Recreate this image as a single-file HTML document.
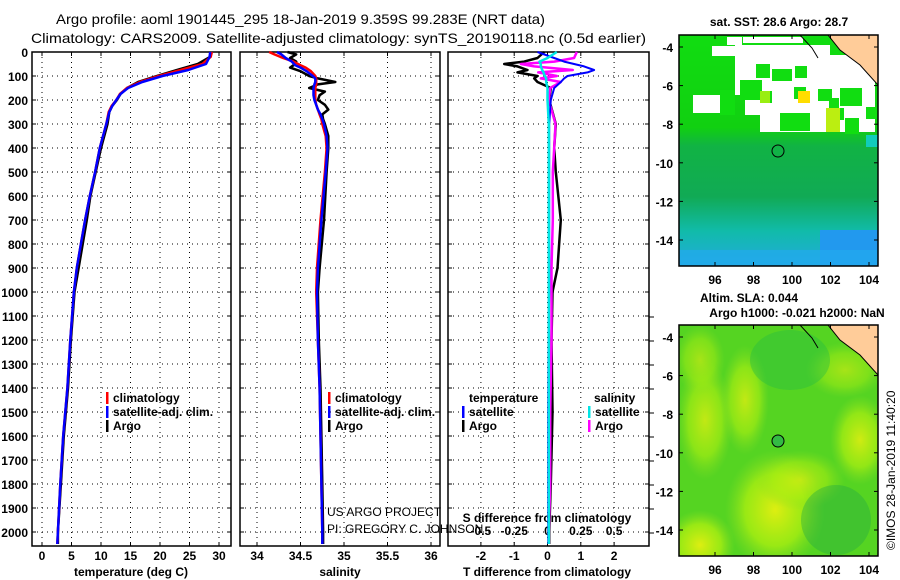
<!DOCTYPE html>
<html><head><meta charset="utf-8">
<style>
html,body{margin:0;padding:0;background:#fff;}
svg{display:block;font-family:"Liberation Sans",sans-serif;}
.t{font-size:12px;font-weight:bold;fill:#000;}
.ttl{font-size:14px;fill:#000;}
</style></head>
<body>
<svg id="fig" width="900" height="580" viewBox="0 0 900 580">
<defs>
<linearGradient id="sstgrad" x1="0" y1="0" x2="0" y2="1">
<stop offset="0" stop-color="#11dd11"/><stop offset="0.4" stop-color="#11d011"/>
<stop offset="0.48" stop-color="#11b344"/><stop offset="0.7" stop-color="#11aa55"/>
<stop offset="0.85" stop-color="#11bbaa"/><stop offset="1" stop-color="#22aadd"/>
</linearGradient>
<radialGradient id="yel1" cx="0.5" cy="0.5" r="0.5"><stop offset="0" stop-color="#ddee11"/><stop offset="0.6" stop-color="#aaee11" stop-opacity="0.8"/><stop offset="1" stop-color="#88dd22" stop-opacity="0"/></radialGradient>
<clipPath id="m1"><rect x="679" y="35" width="199" height="231"/></clipPath>
<clipPath id="m2"><rect x="679" y="325" width="199" height="231"/></clipPath>
</defs>
<text class="ttl" x="56" y="24" textLength="489" lengthAdjust="spacingAndGlyphs">Argo profile: aoml 1901445_295 18-Jan-2019 9.359S 99.283E (NRT data)</text>
<text class="ttl" x="31" y="43" textLength="615" lengthAdjust="spacingAndGlyphs">Climatology: CARS2009. Satellite-adjusted climatology: synTS_20190118.nc (0.5d earlier)</text>
<g id="plots"></g>
<g id="maps"></g>
</svg>
<script>
// ---- data ----
const depthsT = [0,20,50,75,100,125,150,175,200,225,250,300,400,500,600,700,800,900,1000,1200,1400,1600,1800,2000,2050];
const tempClim = [28.8,28.6,27.2,23.5,19.8,16.6,14.4,13.2,12.6,11.8,11.3,10.9,9.8,9.0,8.1,7.3,6.6,5.9,5.4,4.8,4.3,3.6,3.1,2.7,2.6];
const tempSat = [28.5,28.4,27.8,24.8,20.4,17.0,14.6,13.3,12.6,11.9,11.4,10.9,9.8,9.0,8.1,7.3,6.6,5.9,5.4,4.8,4.3,3.6,3.1,2.7,2.6];
const tempArgo = [28.7,28.5,26.4,22.9,19.5,16.3,14.4,13.3,12.7,11.9,11.4,11.1,10.0,9.1,8.2,7.6,6.9,6.2,5.5,4.9,4.4,3.7,3.2,2.7,2.7];
const depthsS = [0,10,25,40,55,65,80,100,110,125,135,150,165,180,200,220,240,260,280,300,350,400,500,700,900,1000,1200,1400,1600,1800,2000,2050];
const salClim = [34.14,34.2,34.3,34.42,34.5,34.56,34.62,34.67,34.68,34.68,34.68,34.67,34.67,34.67,34.67,34.68,34.7,34.72,34.74,34.75,34.79,34.8,34.78,34.73,34.69,34.68,34.7,34.72,34.73,34.74,34.75,34.75];
const salSat = [34.23,34.28,34.33,34.4,34.44,34.5,34.57,34.64,34.67,34.67,34.66,34.65,34.65,34.65,34.66,34.68,34.7,34.73,34.75,34.77,34.8,34.81,34.79,34.74,34.7,34.69,34.7,34.72,34.73,34.74,34.75,34.75];
const salArgo = [34.35,34.45,34.38,34.45,34.42,34.38,34.5,34.6,34.7,34.9,34.7,34.6,34.78,34.72,34.7,34.78,34.82,34.75,34.76,34.78,34.82,34.82,34.8,34.77,34.72,34.7,34.71,34.73,34.74,34.75,34.76,34.76];
const depthsD = [0,25,40,50,60,75,85,100,110,125,150,200,300,400,500,700,900,1000,1200,1500,1800,2000,2050];
const dTsat = [-0.3,0.2,0.5,0.8,1.1,1.4,1.2,0.6,0.5,0.4,0.2,0.1,0.05,0.05,0.05,0.05,0.05,0.05,0.03,0.02,0.02,0.02,0.02];
const dTargo = [-0.1,-0.3,-0.7,-1.3,-0.9,-0.6,-0.9,-0.3,-0.4,-0.3,0.1,0.05,0.25,0.2,0.25,0.4,0.3,0.15,0.12,0.15,0.1,0.05,0.05];
const dSsat = [0.07,0,-0.06,-0.05,-0.05,-0.04,-0.03,-0.02,-0.01,-0.01,0,0,0.01,0.01,0.01,0.01,0.01,0.01,0.01,0.01,0.01,0.01,0.01];
const dSargo = [0.22,0.2,0.05,-0.2,-0.1,0.19,-0.07,0.07,-0.05,0.1,0.02,0.01,0.06,0.05,0.04,0.04,0.03,0.03,0.03,0.02,0.02,0.01,0.01];
const depthTicks = [0,100,200,300,400,500,600,700,800,900,1000,1100,1200,1300,1400,1500,1600,1700,1800,1900,2000];
const tTicks = [0,5,10,15,20,25,30];
const sTicks = [34,34.5,35,35.5,36];
const sTickLabels = ["34","34.5","35","35.5","36"];
const dTTicks = [-2,-1,0,1,2];
const dSTicks = [-0.5,-0.25,0,0.25,0.5];
const dSTickLabels = ["-0.5","-0.25","0","0.25","0.5"];

const NS='http://www.w3.org/2000/svg';
const plots=document.getElementById('plots');
function mk(tag,attrs,parent){const e=document.createElementNS(NS,tag);for(const k in attrs)e.setAttribute(k,attrs[k]);(parent||plots).appendChild(e);return e;}
const yTop=52,yBot=546;
const yD=d=>yTop+d*0.24;
const xT=v=>42+v*5.9;
const xS=v=>257+(v-34)*87;
const xDT=v=>547.5+v*33.3;
const xDS=v=>547.5+v*133.2;

const panels=[{x0:32,x1:231,name:'temperature-panel'},{x0:240,x1:440,name:'salinity-panel'},{x0:448,x1:649,name:'difference-panel'}];
panels.forEach((p,i)=>{
  const r=mk('rect',{x:p.x0,y:yTop,width:p.x1-p.x0,height:yBot-yTop,fill:'#fff',stroke:'#000','stroke-width':1.5});
  
  
  depthTicks.forEach(d=>{
    const l=mk('line',{x1:p.x0,x2:p.x1,y1:yD(d),y2:yD(d),stroke:'#000','stroke-dasharray':'1,4','stroke-width':1});
    
    
    mk('line',{x1:p.x0,x2:p.x0+4,y1:yD(d),y2:yD(d),stroke:'#000'});
    mk('line',{x1:p.x1-4,x2:p.x1,y1:yD(d),y2:yD(d),stroke:'#000'});
  });
});
depthTicks.forEach(d=>{
  const t=mk('text',{x:28,y:yD(d)+5,'text-anchor':'end',class:'t'});t.textContent=d;
  
  
  if(d>=1100){mk('line',{x1:649,x2:654,y1:yD(d)+1,y2:yD(d)+1,stroke:'#000'});}
});
function xgrid(ticks,fx,p,labels,ly){
  ticks.forEach((v,i)=>{
    const x=fx(v);
    const l=mk('line',{x1:x,x2:x,y1:yTop,y2:yBot,stroke:'#000','stroke-dasharray':'1,4'});
    
    
    mk('line',{x1:x,x2:x,y1:yTop,y2:yTop+4,stroke:'#000'});
    mk('line',{x1:x,x2:x,y1:yBot-4,y2:yBot,stroke:'#000'});
    const t=mk('text',{x:x,y:ly,'text-anchor':'middle',class:'t'});t.textContent=labels?labels[i]:v;
    
    
  });
}
xgrid(tTicks,xT,panels[0],null,560);
xgrid(sTicks,xS,panels[1],sTickLabels,560);
xgrid(dTTicks,xDT,panels[2],null,560);
dSTicks.forEach((v,i)=>{const t=mk('text',{x:xDS(v),y:535,'text-anchor':'middle',class:'t'});t.textContent=dSTickLabels[i];
  
  });
[['temperature (deg C)',131,'temperature-axis-title'],['salinity',340,'salinity-axis-title'],['T difference from climatology',547,'t-diff-axis-title']].forEach(a=>{
  const t=mk('text',{x:a[1],y:576,'text-anchor':'middle',class:'t'});t.textContent=a[0];
  
  
});
{const t=mk('text',{x:547,y:522,'text-anchor':'middle',class:'t'});t.textContent='S difference from climatology';

}

function line(depths,vals,fx,color,w,name){
  const pts=depths.map((d,i)=>fx(vals[i]).toFixed(1)+','+yD(d).toFixed(1)).join(' ');
  const l=mk('polyline',{points:pts,fill:'none',stroke:color,'stroke-width':w,'stroke-linejoin':'round'});
  
  
}
line(depthsT,tempArgo,xT,'#000',2.5,'temp-argo-line');
line(depthsT,tempClim,xT,'#ff0000',2.5,'temp-climatology-line');
line(depthsT,tempSat,xT,'#0000ff',2.5,'temp-satellite-line');
line(depthsS,salArgo,xS,'#000',2.5,'sal-argo-line');
line(depthsS,salClim,xS,'#ff0000',2.5,'sal-climatology-line');
line(depthsS,salSat,xS,'#0000ff',2.5,'sal-satellite-line');
line(depthsD,dTargo,xDT,'#000',2.5,'tdiff-argo-line');
line(depthsD,dSargo,xDS,'#ff00ff',2.5,'sdiff-argo-line');
line(depthsD,dTsat,xDT,'#0000ff',2,'tdiff-satellite-line');
line(depthsD,dSsat,xDS,'#00e5e5',2.5,'sdiff-satellite-line');

function legend(x,y,color,label,name){
  mk('rect',{x:x,y:y-10,width:2.5,height:12,fill:color});
  const t=mk('text',{x:x+7,y:y,class:'t'});t.textContent=label;
  
  
}
legend(106,402,'#ff0000','climatology','legend-temp-climatology');
legend(106,416,'#0000ff','satellite-adj. clim.','legend-temp-satellite');
legend(106,430,'#000','Argo','legend-temp-argo');
legend(328,402,'#ff0000','climatology','legend-sal-climatology');
legend(328,416,'#0000ff','satellite-adj. clim.','legend-sal-satellite');
legend(328,430,'#000','Argo','legend-sal-argo');
{const t=mk('text',{x:469,y:402,class:'t'});t.textContent='temperature';}
{const t=mk('text',{x:594,y:402,class:'t'});t.textContent='salinity';}
legend(462,416,'#0000ff','satellite','legend-tdiff-satellite');
legend(462,430,'#000','Argo','legend-tdiff-argo');
legend(588,416,'#00e5e5','satellite','legend-sdiff-satellite');
legend(588,430,'#ff00ff','Argo','legend-sdiff-argo');
{const t=mk('text',{x:327,y:516,'font-size':'12',fill:'#000'});t.textContent='US ARGO PROJECT';}
{const t=mk('text',{x:327,y:533,'font-size':'12',fill:'#000'});t.textContent='PI: GREGORY C. JOHNSON';}

// ---- maps ----
const maps=document.getElementById('maps');
function mm(tag,attrs,parent){const e=document.createElementNS(NS,tag);for(const k in attrs)e.setAttribute(k,attrs[k]);(parent||maps).appendChild(e);return e;}
const lonTicks=[96,98,100,102,104];
const latTicks=[-4,-6,-8,-10,-12,-14];
const mx=lon=>715+(lon-96)*19.25;
function drawMap(y0,clip,name){
  const g=mm('g',{'clip-path':'url(#'+clip+')'});
  
  
  const my=lat=>y0+12+(-4-lat)*19.3;
  return {g,my};
}
// SST map
{const {g,my}=drawMap(35,'m1','sst-map');
mm('rect',{x:679,y:35,width:199,height:231,fill:'url(#sstgrad)'},g);
mm('rect',{x:820,y:230,width:58,height:36,fill:'#2299ee'},g);
mm('rect',{x:679,y:250,width:199,height:16,fill:'#22aaee',opacity:0.7},g);
const whites=[[727,37,15,8],[743,37,60,6],[712,46,25,10],[735,45,95,12],[735,55,140,40],[693,95,30,18],[745,90,130,25],[760,112,115,20]];
whites.forEach(w=>mm('rect',{x:w[0],y:w[1],width:w[2],height:w[3],fill:'#fff'},g));
[[756,64,14,14],[772,69,20,12],[795,66,12,12],[794,87,12,12],[760,91,12,12],[818,89,14,12],[840,88,22,18],[866,107,12,12],[829,98,10,10],[845,118,14,16],[828,108,16,12],[740,80,22,20],[720,90,15,25],[780,113,30,18]].forEach(b=>mm('rect',{x:b[0],y:b[1],width:b[2],height:b[3],fill:'#11dd11'},g));
mm('rect',{x:798,y:91,width:12,height:12,fill:'#ffdd00'},g);
mm('rect',{x:760,y:91,width:10,height:12,fill:'#99ee11'},g);
mm('rect',{x:826,y:108,width:14,height:24,fill:'#bbee11'},g);
mm('rect',{x:866,y:135,width:12,height:12,fill:'#11ccbb'},g);
mm('polygon',{points:'828,35 878,35 878,85 860,65 840,50',fill:'#ffcc99',stroke:'#000'},g);
mm('polyline',{points:'800,35 812,48 818,58',fill:'none',stroke:'#000'},g);
mm('circle',{cx:778,cy:151,r:6,fill:'none',stroke:'#000'},g);
mm('rect',{x:679,y:35,width:199,height:231,fill:'none',stroke:'#000','stroke-width':1.5});
lonTicks.forEach(l=>{mm('line',{x1:mx(l),x2:mx(l),y1:266,y2:262,stroke:'#000'});mm('line',{x1:mx(l),x2:mx(l),y1:35,y2:39,stroke:'#000'});const t=mm('text',{x:mx(l),y:284,'text-anchor':'middle',class:'t'});t.textContent=l;});
latTicks.forEach(l=>{mm('line',{x1:679,x2:683,y1:my(l),y2:my(l),stroke:'#000'});mm('line',{x1:874,x2:878,y1:my(l),y2:my(l),stroke:'#000'});const t=mm('text',{x:673,y:my(l)+5,'text-anchor':'end',class:'t'});t.textContent=l;});
const t=mm('text',{x:779,y:26,'text-anchor':'middle',class:'t'});t.textContent='sat. SST: 28.6 Argo: 28.7';
}
// SLA map
{const {g,my}=drawMap(325,'m2','sla-map');
mm('rect',{x:679,y:325,width:199,height:231,fill:'#55d422'},g);
[[775,510,50,60,1],[700,545,35,35,1],[705,420,28,60,0.8],[745,400,24,55,0.8],[860,440,30,45,0.9],[845,370,40,28,0.6],[800,480,45,30,0.7],[700,360,25,35,0.6]].forEach(e=>mm('ellipse',{cx:e[0],cy:e[1],rx:e[2],ry:e[3],fill:'url(#yel1)',opacity:e[4]},g));
mm('ellipse',{cx:790,cy:360,rx:40,ry:30,fill:'#22bb44',opacity:0.4},g);
mm('ellipse',{cx:836,cy:520,rx:35,ry:35,fill:'#22aa44',opacity:0.4},g);
mm('polygon',{points:'828,325 878,325 878,375 860,355 840,340',fill:'#ffcc99',stroke:'#000'},g);
mm('polyline',{points:'800,325 812,338 818,348',fill:'none',stroke:'#000'},g);
mm('circle',{cx:778,cy:441,r:6,fill:'#33bb44',stroke:'#000'},g);
mm('rect',{x:679,y:325,width:199,height:231,fill:'none',stroke:'#000','stroke-width':1.5});
lonTicks.forEach(l=>{mm('line',{x1:mx(l),x2:mx(l),y1:556,y2:552,stroke:'#000'});mm('line',{x1:mx(l),x2:mx(l),y1:325,y2:329,stroke:'#000'});const t=mm('text',{x:mx(l),y:574,'text-anchor':'middle',class:'t'});t.textContent=l;});
latTicks.forEach(l=>{mm('line',{x1:679,x2:683,y1:my(l),y2:my(l),stroke:'#000'});mm('line',{x1:874,x2:878,y1:my(l),y2:my(l),stroke:'#000'});const t=mm('text',{x:673,y:my(l)+5,'text-anchor':'end',class:'t'});t.textContent=l;});
let t=mm('text',{x:749,y:302,'text-anchor':'middle',class:'t'});t.textContent='Altim. SLA: 0.044';
t=mm('text',{x:797,y:317,'text-anchor':'middle',class:'t'});t.textContent='Argo h1000: -0.021 h2000: NaN';
t=mm('text',{x:0,y:0,'font-size':'12',fill:'#000',transform:'translate(895,550) rotate(-90)'});t.textContent='©IMOS 28-Jan-2019 11:40:20';
}
</script>
</body></html>
